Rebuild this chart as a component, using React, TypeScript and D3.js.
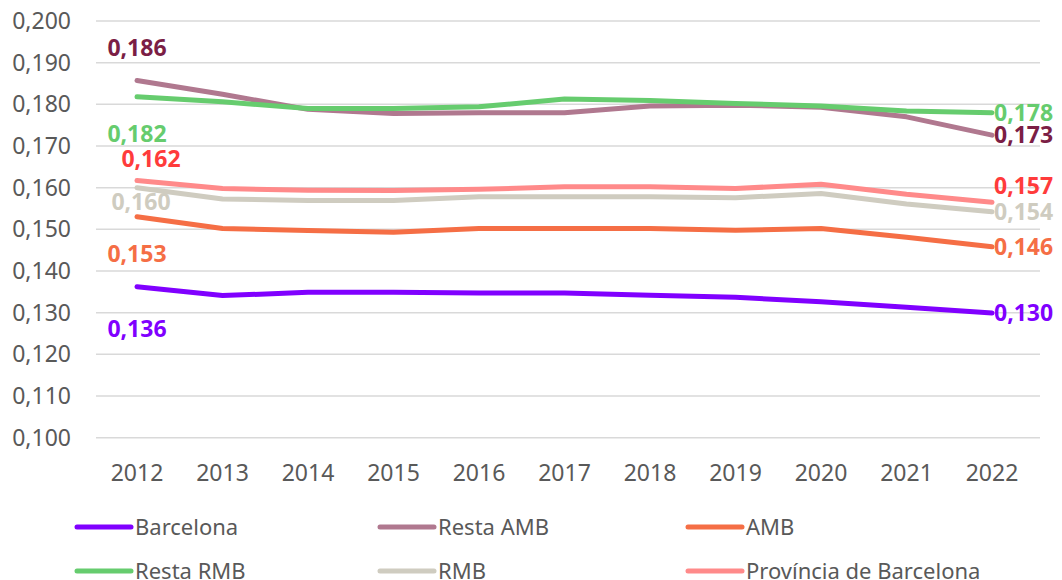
import { useEffect, useRef } from 'react';
import * as d3 from 'd3';

const years = ['2012', '2013', '2014', '2015', '2016', '2017', '2018', '2019', '2020', '2021', '2022'];
const yTicks = [0.1, 0.11, 0.12, 0.13, 0.14, 0.15, 0.16, 0.17, 0.18, 0.19, 0.2];

const barcelona = [0.1362, 0.1341, 0.1349, 0.1349, 0.1347, 0.1347, 0.1342, 0.1337, 0.1326, 0.1313, 0.1299];
const restaAMB = [0.1857, 0.1824, 0.1788, 0.1778, 0.178, 0.178, 0.1796, 0.1798, 0.1793, 0.177, 0.1726];
const amb = [0.153, 0.1502, 0.1497, 0.1493, 0.1502, 0.1502, 0.1502, 0.1498, 0.1502, 0.1481, 0.1458];
const restaRMB = [0.1818, 0.1806, 0.179, 0.179, 0.1794, 0.1813, 0.1809, 0.1802, 0.1796, 0.1784, 0.178];
const rmb = [0.16, 0.1573, 0.1569, 0.1569, 0.1578, 0.1578, 0.1578, 0.1576, 0.1586, 0.1561, 0.1542];
const provincia = [0.1617, 0.1598, 0.1594, 0.1593, 0.1596, 0.1602, 0.1602, 0.1598, 0.1608, 0.1584, 0.1565];

const series = [
  { name: 'Barcelona', values: barcelona, color: '#8000FF', label: '#8000FF', firstDy: 42, lastDy: 0 },
  { name: 'Resta AMB', values: restaAMB, color: '#B0788F', label: '#7B1E45', firstDy: -33, lastDy: 0 },
  { name: 'AMB', values: amb, color: '#F56E45', label: '#F56E45', firstDy: 37, lastDy: 0 },
  { name: 'Resta RMB', values: restaRMB, color: '#66CC6E', label: '#66CC6E', firstDy: 37, lastDy: 0 },
  { name: 'RMB', values: rmb, color: '#CFCCC0', label: '#CFCCC0', firstDy: 14, lastDy: 0 },
  { name: 'Província de Barcelona', values: provincia, color: '#FF8A8A', label: '#FF3B3B', firstDy: -22, lastDy: -16 },
];

const firstDx = [0, 0, 0, 0, 4, 14];

const App = () => {
  const svgRef = useRef<SVGSVGElement>(null);

  useEffect(() => {
    const svg = d3.select(svgRef.current);
    svg.selectAll('*').remove();

    const font = '"Noto Sans", "Open Sans", sans-serif';
    const x = d3.scalePoint().domain(years).range([137, 992]);
    const y = d3.scaleLinear().domain([0.1, 0.2]).range([437.7, 21]);
    const fmt = (v: number) => d3.format('.3f')(v).replace('.', ',');

    const grid = svg.append('g');
    grid.selectAll('line')
      .data(yTicks)
      .join('line')
      .attr('x1', 96)
      .attr('x2', 1040)
      .attr('y1', d => y(d))
      .attr('y2', d => y(d))
      .attr('stroke', '#D9D9D9')
      .attr('stroke-width', 1.5);

    svg.append('g')
      .selectAll('text')
      .data(yTicks)
      .join('text')
      .attr('x', 71)
      .attr('y', d => y(d))
      .attr('dy', '0.35em')
      .attr('text-anchor', 'end')
      .attr('font-family', font)
      .attr('font-size', 23)
      .attr('fill', '#595959')
      .text(d => fmt(d));

    svg.append('g')
      .selectAll('text')
      .data(years)
      .join('text')
      .attr('x', d => x(d)!)
      .attr('y', 481)
      .attr('text-anchor', 'middle')
      .attr('font-family', font)
      .attr('font-size', 23)
      .attr('fill', '#595959')
      .text(d => d);

    const line = d3.line<number>()
      .x((_, i) => x(years[i])!)
      .y(d => y(d));

    svg.append('g')
      .selectAll('path')
      .data(series)
      .join('path')
      .attr('d', d => line(d.values))
      .attr('fill', 'none')
      .attr('stroke', d => d.color)
      .attr('stroke-width', 5)
      .attr('stroke-linejoin', 'round')
      .attr('stroke-linecap', 'round');

    const labels = svg.append('g')
      .attr('font-family', font)
      .attr('font-size', 23)
      .attr('font-weight', 'bold');

    series.forEach((s, i) => {
      const v0 = s.values[0];
      const vn = s.values[s.values.length - 1];
      labels.append('text')
        .attr('x', x(years[0])! + firstDx[i])
        .attr('y', y(v0) + s.firstDy)
        .attr('dy', '0.35em')
        .attr('text-anchor', 'middle')
        .attr('fill', s.label)
        .text(fmt(v0));
      labels.append('text')
        .attr('x', x(years[years.length - 1])! + 2)
        .attr('y', y(vn) + s.lastDy)
        .attr('dy', '0.35em')
        .attr('fill', s.label)
        .text(fmt(vn));
    });

    const colX = [77, 380, 688];
    const rowY = [527, 571];
    const legend = svg.append('g')
      .selectAll('g')
      .data(series)
      .join('g')
      .attr('transform', (_, i) => `translate(${colX[i % 3]},${rowY[Math.floor(i / 3)]})`);

    legend.append('line')
      .attr('x1', 0)
      .attr('x2', 54)
      .attr('stroke', d => d.color)
      .attr('stroke-width', 5)
      .attr('stroke-linecap', 'round');

    legend.append('text')
      .attr('x', 58)
      .attr('dy', '0.35em')
      .attr('font-family', font)
      .attr('font-size', 22)
      .attr('fill', '#595959')
      .text(d => d.name);
  }, []);

  return (
    <svg
      ref={svgRef}
      width={1062}
      height={580}
      style={{ position: 'absolute', left: 0, top: 0, background: '#fff' }}
    />
  );
};

export default App;
